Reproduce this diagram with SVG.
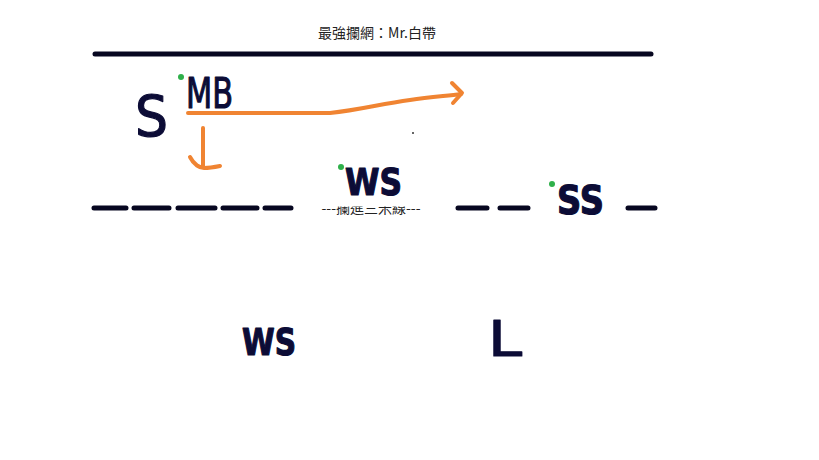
<svg xmlns="http://www.w3.org/2000/svg" width="819" height="460" viewBox="0 0 819 460">
<style>
.hand{font-family:"DejaVu Sans","Liberation Sans",sans-serif;fill:#0c0c36;stroke:#0c0c36;stroke-width:1.2;stroke-linejoin:round}
.b{font-weight:bold}
.line{stroke:#070720;stroke-width:5;stroke-linecap:round;fill:none}
.arrow{stroke:#f08432;stroke-width:4;stroke-linecap:round;stroke-linejoin:round;fill:none}
.dot{fill:#2fb04a}
</style>
<defs>
<clipPath id="clipBottom"><rect x="280" y="206.5" width="180" height="20"/></clipPath>
</defs>
<rect width="819" height="460" fill="#ffffff"/>
<text x="377" y="38" text-anchor="middle" font-family="'Noto Sans CJK TC','Liberation Sans',sans-serif" font-size="14" fill="#222">最強攔網：Mr.白帶</text>
<g id="court">
<line class="line" x1="95" y1="54" x2="651" y2="54"/>
<path class="line" d="M94 208H126M134 208H169M178 208H215M223 208H257M265 208H291M458 208H487M500 208H528M628 208H655"/>
<text x="371" y="213" text-anchor="middle" clip-path="url(#clipBottom)" font-family="'Noto Sans CJK TC',sans-serif" font-size="14" fill="#222">---攔進三米線---</text>
</g>
<g id="node-S"><text class="hand" x="135" y="137" font-size="57" textLength="33" lengthAdjust="spacingAndGlyphs" stroke-width="2.5">S</text></g>
<g id="node-MB"><circle class="dot" cx="181" cy="77" r="3"/><text class="hand" x="186" y="108" font-size="42" textLength="47" lengthAdjust="spacingAndGlyphs" stroke-width="1.5">MB</text></g>
<g id="node-WS1"><circle class="dot" cx="341" cy="167" r="3"/><text class="hand b" x="345" y="195" font-size="37" textLength="57" lengthAdjust="spacingAndGlyphs">WS</text></g>
<g id="node-SS"><circle class="dot" cx="552" cy="184" r="3"/><text class="hand b" x="557" y="214" font-size="39" textLength="47" lengthAdjust="spacingAndGlyphs">SS</text></g>
<g id="node-WS2"><text class="hand b" x="242" y="355" font-size="37" textLength="54" lengthAdjust="spacingAndGlyphs">WS</text></g>
<g id="node-L"><text class="hand" x="488" y="356" font-size="49" textLength="34" lengthAdjust="spacingAndGlyphs" stroke-width="2.5">L</text></g>
<circle cx="413" cy="133" r="1" fill="#333"/>
<g id="connectors">
<path class="arrow" d="M188 113 L330 113 C360 110 380 104 410 100 C430 97 445 96 461 94"/>
<path class="arrow" d="M452 83 L462 93 L453 103"/>
<path class="arrow" d="M203 128 L203 167"/>
<path class="arrow" d="M190 157 C194 165 200 168 204 168 C210 168 215 167 220 166"/>
</g>
</svg>
